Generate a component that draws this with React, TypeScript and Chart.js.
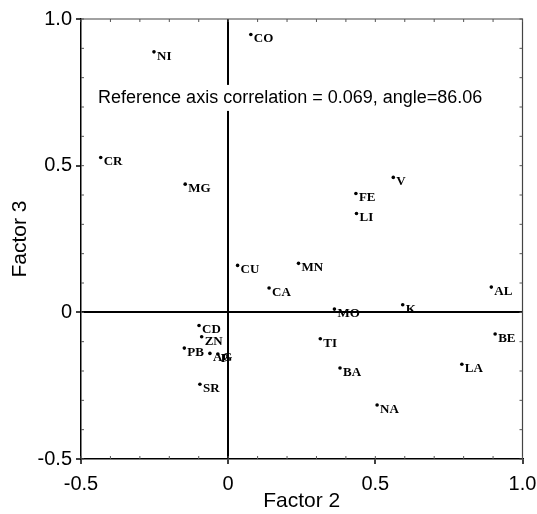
import React, { useEffect, useRef } from "react";
import { Chart, registerables } from "chart.js";
Chart.register(...registerables);

const elements = ["CO","NI","CR","MG","V","FE","LI","CU","MN","CA","CD","ZN","PB","AG","P","SR","MO","K","AL","TI","BE","BA","LA","NA"];
const factor2 = [0.077,-0.252,-0.433,-0.146,0.561,0.434,0.436,0.032,0.239,0.139,-0.099,-0.090,-0.149,-0.062,-0.035,-0.096,0.361,0.593,0.894,0.313,0.907,0.380,0.794,0.506];
const factor3 = [0.947,0.888,0.528,0.437,0.460,0.405,0.337,0.160,0.167,0.083,-0.045,-0.083,-0.122,-0.140,-0.142,-0.245,0.011,0.026,0.086,-0.090,-0.074,-0.190,-0.177,-0.316];

const xTickValues = [-0.5, 0, 0.5, 1.0];
const xTickLabels = ["-0.5", "0", "0.5", "1.0"];
const yTickValues = [-0.5, 0, 0.5, 1.0];
const yTickLabels = ["-0.5", "0", "0.5", "1.0"];

const annotText = "Reference axis correlation = 0.069, angle=86.06";
const annotX = -0.442;
const annotY = 0.731;

const SANS = '"Liberation Sans", Arial, Helvetica, sans-serif';
const SERIF = '"Liberation Serif", "Times New Roman", serif';

const overlay = {
  id: "overlay",
  afterDatasetsDraw(chart: any) {
    const { ctx, chartArea, scales } = chart;
    const x = scales.x, y = scales.y;
    ctx.save();
    // top & right borders
    ctx.strokeStyle = "#444";
    ctx.lineWidth = 1.2;
    ctx.beginPath();
    ctx.moveTo(chartArea.left, chartArea.top);
    ctx.lineTo(chartArea.right, chartArea.top);
    ctx.lineTo(chartArea.right, chartArea.bottom);
    ctx.stroke();
    // minor ticks (inward)
    ctx.strokeStyle = "#555";
    ctx.lineWidth = 1;
    ctx.beginPath();
    for (let k = -5; k <= 10; k++) {
      const v = k / 10;
      const px = x.getPixelForValue(v);
      const py = y.getPixelForValue(v);
      ctx.moveTo(px, chartArea.bottom); ctx.lineTo(px, chartArea.bottom - 3);
      ctx.moveTo(px, chartArea.top); ctx.lineTo(px, chartArea.top + 3);
      ctx.moveTo(chartArea.left, py); ctx.lineTo(chartArea.left + 3, py);
      ctx.moveTo(chartArea.right, py); ctx.lineTo(chartArea.right - 3, py);
    }
    ctx.stroke();
    // annotation
    const ax = x.getPixelForValue(annotX);
    const ay = y.getPixelForValue(annotY);
    ctx.font = "18px " + SANS;
    const w = ctx.measureText(annotText).width;
    ctx.fillStyle = "#fff";
    ctx.fillRect(ax - 4, ay - 13, w + 8, 26);
    ctx.fillStyle = "#000";
    ctx.textBaseline = "middle";
    ctx.textAlign = "left";
    ctx.fillText(annotText, ax, ay);
    // point labels
    ctx.font = "bold 13px " + SERIF;
    elements.forEach((n, i) => {
      const px = x.getPixelForValue(factor2[i]);
      const py = y.getPixelForValue(factor3[i]);
      ctx.fillText(n, px + 3, py + 4.5);
    });
    ctx.restore();
  },
};

export default function App() {
  const ref = useRef<HTMLCanvasElement>(null);
  useEffect(() => {
    document.body.style.margin = "0";
    const zeroGrid = (c: any) => (c.tick && c.tick.value === 0 ? "#000" : "rgba(0,0,0,0)");
    const chart = new Chart(ref.current as HTMLCanvasElement, {
      type: "scatter",
      data: {
        datasets: [
          {
            data: elements.map((_, i) => ({ x: factor2[i], y: factor3[i] })),
            pointRadius: 1.8,
            pointHoverRadius: 1.8,
            backgroundColor: "#000",
            borderWidth: 0,
          },
        ],
      },
      options: {
        animation: false,
        responsive: true,
        maintainAspectRatio: false,
        layout: { padding: { top: 19, right: 14.5, left: 0, bottom: 0 } },
        plugins: { legend: { display: false }, tooltip: { enabled: false } },
        scales: {
          x: {
            type: "linear",
            min: -0.5,
            max: 1.0,
            afterBuildTicks: (s: any) => { s.ticks = xTickValues.map((v) => ({ value: v })); },
            afterFit: (s: any) => { s.height = 55; s.paddingLeft = 0; s.paddingRight = 0; },
            ticks: {
              autoSkip: false,
              maxRotation: 0,
              padding: 8,
              color: "#000",
              font: { size: 20, family: SANS },
              callback: (v: any) => xTickLabels[xTickValues.indexOf(Number(v))] ?? "",
            },
            grid: { color: zeroGrid, lineWidth: 2, tickColor: "#000", tickWidth: 1.5, tickLength: 5 },
            border: { display: true, color: "#000", width: 1.5 },
            title: { display: true, text: "Factor 2", color: "#000", font: { size: 21, family: SANS }, padding: { top: 0, bottom: 0 } },
          },
          y: {
            type: "linear",
            min: -0.5,
            max: 1.0,
            afterBuildTicks: (s: any) => { s.ticks = yTickValues.map((v) => ({ value: v })); },
            afterFit: (s: any) => { s.width = 81; s.paddingTop = 0; s.paddingBottom = 0; },
            ticks: {
              autoSkip: false,
              padding: 4,
              color: "#000",
              font: { size: 20, family: SANS },
              callback: (v: any) => yTickLabels[yTickValues.indexOf(Number(v))] ?? "",
            },
            grid: { color: zeroGrid, lineWidth: 2, tickColor: "#000", tickWidth: 1.5, tickLength: 5 },
            border: { display: true, color: "#000", width: 1.5 },
            title: { display: true, text: "Factor 3", color: "#000", font: { size: 21, family: SANS }, padding: { top: 8, bottom: 0 } },
          },
        },
      },
      plugins: [overlay],
    });
    return () => chart.destroy();
  }, []);
  return (
    <div style={{ width: 537, height: 514, position: "relative" }}>
      <canvas ref={ref} />
    </div>
  );
}
